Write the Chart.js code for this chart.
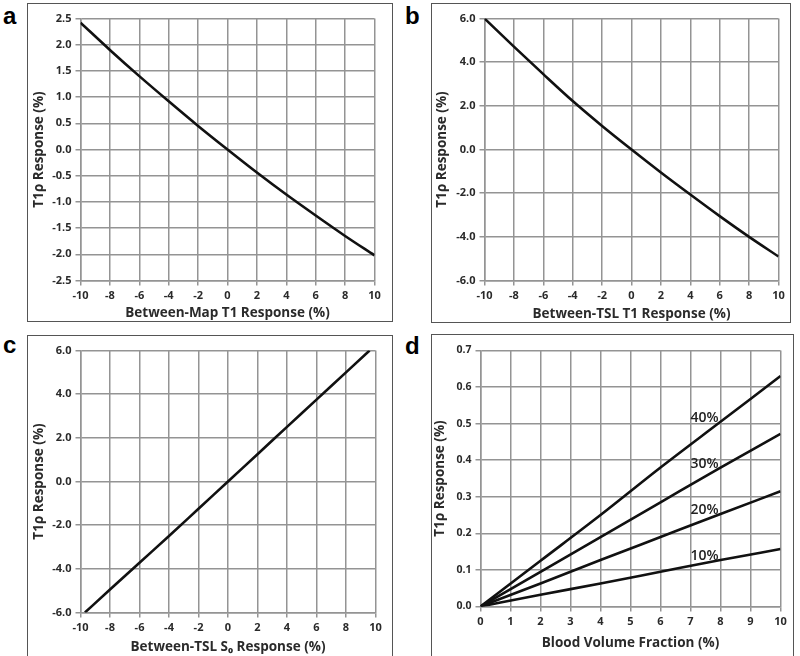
<!DOCTYPE html>
<html>
<head>
<meta charset="utf-8">
<script src="https://cdn.jsdelivr.net/npm/chart.js@4.4.1/dist/chart.umd.min.js"></script>
<style>
  body { margin: 0; width: 800px; height: 656px; overflow: hidden; background: #fff; position: relative; }
  .panel { position: absolute; border: 1.5px solid #555; box-sizing: border-box; }
  .tag { position: absolute; font: bold 24px Arial, "Liberation Sans", sans-serif; line-height: 24px; color: #000; }
</style>
</head>
<body>
<div class="tag" style="left:3px;top:4px">a</div>
<div class="tag" style="left:405px;top:4px">b</div>
<div class="tag" style="left:3px;top:333px">c</div>
<div class="tag" style="left:405px;top:334px">d</div>

<div class="panel" style="left:27px;top:3px;width:366px;height:319px"><canvas id="chartA"></canvas></div>
<div class="panel" style="left:431px;top:3px;width:360px;height:320px"><canvas id="chartB"></canvas></div>
<div class="panel" style="left:27px;top:335px;width:366px;height:325px"><canvas id="chartC"></canvas></div>
<div class="panel" style="left:431px;top:334px;width:363px;height:325px"><canvas id="chartD"></canvas></div>

<script>
// panel a / b : x values and curves
const xAB = [-10, -8, -6, -4, -2, 0, 2, 4, 6, 8, 10];
const yA = [2.42, 1.90, 1.40, 0.92, 0.45, 0, -0.44, -0.86, -1.26, -1.65, -2.02];
const yB = [6.0, 4.71, 3.45, 2.22, 1.08, 0, -1.05, -2.06, -3.05, -4.0, -4.9];

// panel c
const xC = [-9.7, -8, -6, -4, -2, 0, 2, 4, 6, 8, 9.6];
const yC = [-6.0, -4.95, -3.72, -2.5, -1.25, 0, 1.25, 2.5, 3.75, 5.0, 6.0];

// panel d
const xD = [0, 2, 4, 6, 8, 10];
const d40 = [0, 0.125, 0.25, 0.38, 0.505, 0.63];
const d30 = [0, 0.095, 0.19, 0.285, 0.38, 0.472];
const d20 = [0, 0.063, 0.127, 0.19, 0.253, 0.315];
const d10 = [0, 0.032, 0.063, 0.095, 0.127, 0.157];
const pctLabels = ['40%', '30%', '20%', '10%'];

// tick values
const ticksX = [-10, -8, -6, -4, -2, 0, 2, 4, 6, 8, 10];
const ticksYA = [-2.5, -2.0, -1.5, -1.0, -0.5, 0, 0.5, 1.0, 1.5, 2.0, 2.5];
const ticksYB = [-6, -4, -2, 0, 2, 4, 6];
const ticksXD = [0, 1, 2, 3, 4, 5, 6, 7, 8, 9, 10];
const ticksYD = [0, 0.1, 0.2, 0.3, 0.4, 0.5, 0.6, 0.7];

const GRID = '#949494';
const TEXT = '#2a2a2a';
const FONT = '"Open Sans"';

function axis(ticks, fmt, title, size, tickSize, titlePad) {
    return {
        type: 'linear',
        min: ticks[0],
        max: ticks[ticks.length - 1],
        afterBuildTicks: s => { s.ticks = ticks.map(v => ({ value: v })); },
        afterFit: s => {
            if (s.isHorizontal()) s.height = size; else s.width = size;
        },
        grid: { color: GRID, lineWidth: 1.5, tickLength: 5 },
        border: { color: GRID, width: 1.5 },
        ticks: {
            callback: v => fmt(v),
            color: TEXT,
            font: { family: FONT, weight: 'bold', size: tickSize },
            padding: 4,
            maxRotation: 0,
            autoSkip: false
        },
        title: {
            display: true,
            text: title,
            color: TEXT,
            font: { family: FONT, weight: 'bold', size: 13.5 },
            padding: titlePad
        }
    };
}

const int = v => String(v);
const oneDec = v => v.toFixed(1);

function series(xs, ys) {
    return {
        data: xs.map((x, i) => ({ x: x, y: ys[i] })),
        borderColor: '#111',
        borderWidth: 2.6,
        pointRadius: 0,
        cubicInterpolationMode: 'monotone',
        fill: false
    };
}

// draws the percentage labels next to the lines in panel d
const pctPlugin = {
    id: 'pct',
    afterDatasetsDraw(chart) {
        const ctx = chart.ctx;
        const sx = chart.scales.x, sy = chart.scales.y;
        const lines = [d40, d30, d20, d10];
        ctx.save();
        ctx.font = '600 14px ' + FONT;
        ctx.fillStyle = '#222';
        ctx.textAlign = 'left';
        ctx.textBaseline = 'alphabetic';
        lines.forEach((ys, i) => {
            ctx.fillText(pctLabels[i], sx.getPixelForValue(7), sy.getPixelForValue(ys[4]));
        });
        ctx.restore();
    }
};

function makeChart(id, datasets, xAxis, yAxis, pad, plugins) {
    new Chart(document.getElementById(id), {
        type: 'line',
        data: { datasets: datasets },
        options: {
            responsive: true,
            maintainAspectRatio: false,
            animation: false,
            layout: { padding: pad },
            plugins: { legend: { display: false }, tooltip: { enabled: false } },
            scales: { x: xAxis, y: yAxis }
        },
        plugins: plugins || []
    });
}

makeChart('chartA', [series(xAB, yA)],
    axis(ticksX, int, 'Between-Map T1 Response (%)', 40.5, 11, { top: 0, bottom: 0 }),
    axis(ticksYA, oneDec, 'T1\u03c1 Response (%)', 52.5, 11, { top: 3, bottom: 0 }),
    { top: 14.5, right: 17.5, left: 0, bottom: 0 });

makeChart('chartB', [series(xAB, yB)],
    axis(ticksX, int, 'Between-TSL T1 Response (%)', 41.5, 11, { top: 0, bottom: 0 }),
    axis(ticksYB, oneDec, 'T1\u03c1 Response (%)', 52.5, 11, { top: 2, bottom: 0 }),
    { top: 14.5, right: 11.5, left: 0, bottom: 0 });

makeChart('chartC', [series(xC, yC)],
    axis(ticksX, int, 'Between-TSL S\u2080 Response (%)', 46.5, 11, { top: 0, bottom: 4.2 }),
    axis(ticksYB, oneDec, 'T1\u03c1 Response (%)', 52.5, 11, { top: 3, bottom: 0 }),
    { top: 14.5, right: 16.5, left: 0, bottom: 0 });

makeChart('chartD', [series(xD, d40), series(xD, d30), series(xD, d20), series(xD, d10)],
    axis(ticksXD, int, 'Blood Volume Fraction (%)', 51.5, 11, { top: 0, bottom: 7.2 }),
    axis(ticksYD, oneDec, 'T1\u03c1 Response (%)', 48.5, 10.5, { top: 0, bottom: 0 }),
    { top: 15.5, right: 12.5, left: 0, bottom: 0 },
    [pctPlugin]);
</script>
</body>
</html>
